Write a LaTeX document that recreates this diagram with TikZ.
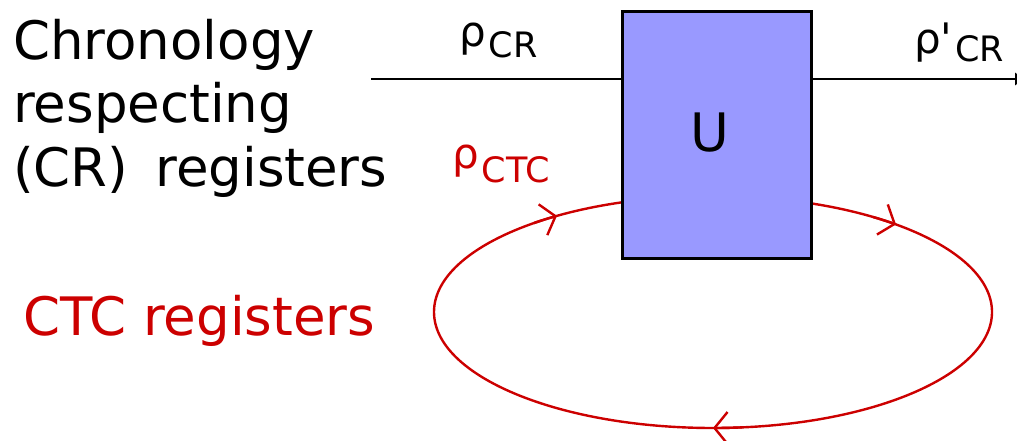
\documentclass[tikz,border=0pt]{standalone}
\usepackage{fontspec}
\newfontfamily\djv{DejaVu Sans}
\usetikzlibrary{arrows.meta}
\definecolor{ctcred}{RGB}{204,0,0}
\definecolor{gatefill}{RGB}{153,153,255}
% density-matrix labels: a large rho with a lowered register name
\newcommand\rhosym{{\fontsize{42}{42}\selectfont ρ}}
\newcommand\rhoprime{{\fontsize{42}{42}\selectfont ρ'}}
\newcommand\regsub[2]{\hspace{3pt}\raisebox{-#1}{\fontsize{35}{35}\selectfont #2}}
\begin{document}
\begin{tikzpicture}[x=1pt,y=1pt,
  big/.style={font=\djv\fontsize{53}{63.5}\selectfont, inner sep=0pt},
  statelabel/.style={font=\djv, inner sep=0pt, anchor=base west},
  wire/.style={line width=2.8pt},
  ctcloop/.style={ctcred, line width=2.4pt},
  looptip/.style={ctcloop, -{Straight Barb[length=13pt,width=32pt]}},
  gatebox/.style={draw, fill=gatefill, line width=2.8pt, inner sep=0pt,
    minimum width=189pt, minimum height=247pt}]
\useasboundingbox (0,0) rectangle (1017,-441);
\clip (0,0) rectangle (1017,-441);

% closed timelike curve: the loop through the gate, running clockwise
\coordinate (loopc) at (713,-312);
\draw[ctcloop] (loopc) ellipse [x radius=279, y radius=116];
\foreach \a in {124,49,270}
  \draw[looptip] ([shift={(\a+6:279 and 116)}]loopc)
    arc[start angle=\a+6, end angle=\a, x radius=279, y radius=116];

% the unitary acting on both register sets
\node[gatebox] (gate) at (717,-135) {};
\node[big, xshift=-7pt, yshift=2pt] (gatelabel) at (gate.center) {U};

% chronology-respecting wire
\coordinate (crin) at (371,-79);
\coordinate (crout) at (1025,-79);
\draw[wire] (crin) -- (crin -| gate.west);
\draw[wire, -{Latex[length=10pt,width=14pt]}] (gate.east |- crout) -- (crout);

% state labels
\node[statelabel] (rhocr) at (459,-47) {\rhosym\regsub{11pt}{CR}};
\node[statelabel] (rhocrout) at (914,-54) {\rhoprime\regsub{8pt}{CR}};
\node[statelabel, ctcred] (rhoctc) at (452,-168) {\rhosym\regsub{14pt}{CTC}};

% register descriptions
\node[big, align=left, anchor=base west] (crtext) at (13,-186)
  {Chronology\\respecting\\(CR)\hspace{27pt}registers};
\node[big, ctcred, anchor=base west] (ctctext) at (23,-335) {CTC registers};
\end{tikzpicture}
\end{document}
